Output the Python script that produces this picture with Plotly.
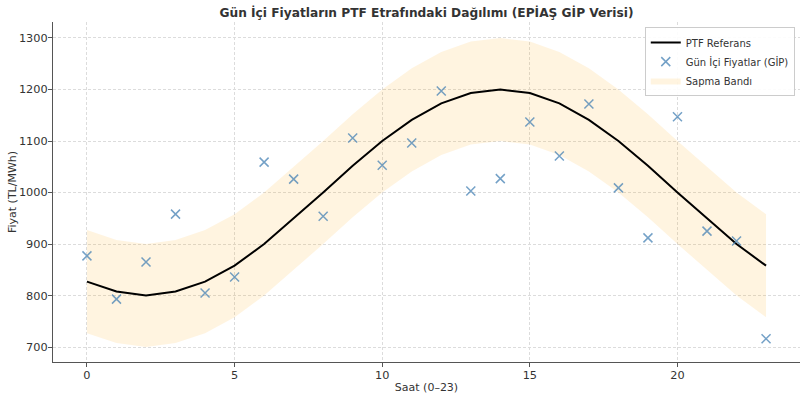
import plotly.graph_objects as go

hours = list(range(24))
ptf = [827, 808, 800, 808, 827, 858, 900, 950, 1000, 1052, 1100, 1141,
       1173, 1193, 1200, 1193, 1173, 1141, 1100, 1052, 1000, 950, 900, 858]
gip = [877, 793, 865, 958, 805, 836, 1059, 1026, 954, 1106, 1053, 1096,
       1197, 1003, 1027, 1137, 1071, 1172, 1009, 912, 1147, 925, 906, 716]
band_width = 100
upper = [v + band_width for v in ptf]
lower = [v - band_width for v in ptf]

FONT = "DejaVu Sans"
fig = go.Figure()
fig.add_trace(go.Scatter(x=hours, y=upper, mode="lines", line=dict(width=0),
                         showlegend=False, hoverinfo="skip"))
fig.add_trace(go.Scatter(x=hours, y=lower, mode="lines", line=dict(width=0),
                         fill="tonexty", fillcolor="rgba(255,165,0,0.12)",
                         name="Sapma Bandı", legendrank=3))
fig.add_trace(go.Scatter(x=hours, y=ptf, mode="lines",
                         line=dict(color="black", width=2),
                         name="PTF Referans", legendrank=1))
fig.add_trace(go.Scatter(x=hours, y=gip, mode="markers",
                         marker=dict(symbol="x-thin", size=9,
                                     line=dict(width=1.5, color="rgba(70,130,180,0.75)")),
                         name="Gün İçi Fiyatlar (GİP)", legendrank=2))

axis_common = dict(showline=True, linecolor="#555", linewidth=1.2, ticks="outside",
                   ticklen=4, tickcolor="#555", showgrid=True, gridcolor="#dcdcdc",
                   griddash="3px,2px", gridwidth=0.8, zeroline=False, automargin=False,
                   ticklabelstandoff=-2,
                   tickfont=dict(family=FONT, size=11.3, color="#333"))
fig.update_layout(
    width=804, height=397,
    margin=dict(l=53, r=4, t=22, b=35),
    paper_bgcolor="white", plot_bgcolor="white",
    font=dict(family=FONT, color="#333"),
    title=dict(text="<b>Gün İçi Fiyatların PTF Etrafındaki Dağılımı (EPİAŞ GİP Verisi)</b>",
               x=0.5, xref="paper", xanchor="center", y=0.978, yanchor="top",
               font=dict(family=FONT, size=12.2, color="#333")),
    xaxis=dict(range=[-1.15, 24.15], tickvals=[0, 5, 10, 15, 20],
               title=dict(text="Saat (0–23)", font=dict(family=FONT, size=11, color="#333"), standoff=2),
               **axis_common),
    yaxis=dict(range=[671, 1331], tickvals=[700, 800, 900, 1000, 1100, 1200, 1300],
               title=dict(text="Fiyat (TL/MWh)", font=dict(family=FONT, size=11, color="#333"), standoff=0),
               **axis_common),
    legend=dict(x=0.993, y=0.985, xanchor="right", yanchor="top", traceorder="normal",
                bgcolor="rgba(255,255,255,0.9)", bordercolor="#ccc", borderwidth=1,
                font=dict(family=FONT, size=10, color="#333"), tracegroupgap=0,
                itemwidth=30),
    showlegend=True,
)
fig.write_html("out.html", config={"displayModeBar": False},
               post_script="document.body.style.margin='0';")
